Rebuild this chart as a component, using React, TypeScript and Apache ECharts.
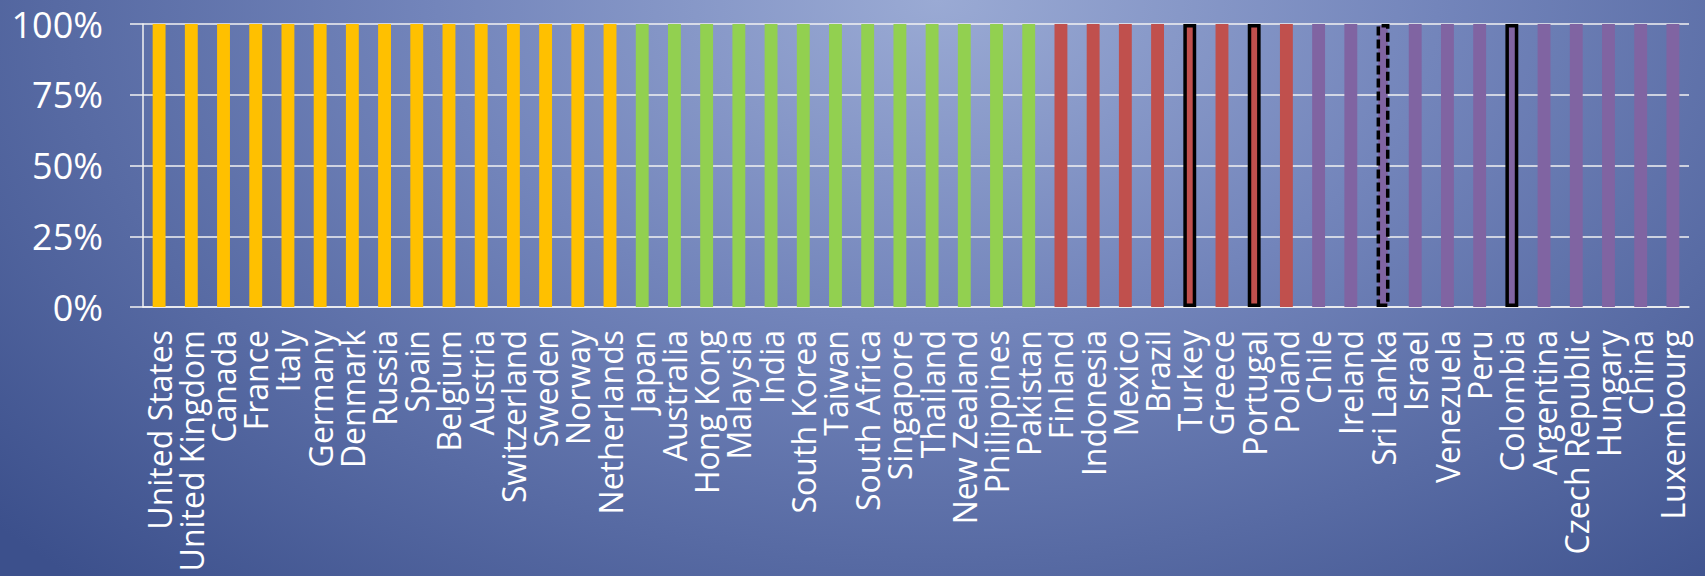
import React, { useEffect, useRef } from "react";
import * as echarts from "echarts";

const countries = [
  "United States", "United Kingdom", "Canada", "France", "Italy", "Germany", "Denmark", "Russia",
  "Spain", "Belgium", "Austria", "Switzerland", "Sweden", "Norway", "Netherlands",
  "Japan", "Australia", "Hong Kong", "Malaysia", "India", "South Korea", "Taiwan", "South Africa",
  "Singapore", "Thailand", "New Zealand", "Philippines", "Pakistan",
  "Finland", "Indonesia", "Mexico", "Brazil", "Turkey", "Greece", "Portugal", "Poland",
  "Chile", "Ireland", "Sri Lanka", "Israel", "Venezuela", "Peru", "Colombia", "Argentina",
  "Czech Republic", "Hungary", "China", "Luxembourg",
];

const values = [
  100, 100, 100, 100, 100, 100, 100, 100, 100, 100, 100, 100, 100, 100, 100,
  100, 100, 100, 100, 100, 100, 100, 100, 100, 100, 100, 100, 100,
  100, 100, 100, 100, 100, 100, 100, 100,
  100, 100, 100, 100, 100, 100, 100, 100, 100, 100, 100, 100,
];

const groups = [
  0, 0, 0, 0, 0, 0, 0, 0, 0, 0, 0, 0, 0, 0, 0,
  1, 1, 1, 1, 1, 1, 1, 1, 1, 1, 1, 1, 1,
  2, 2, 2, 2, 2, 2, 2, 2,
  3, 3, 3, 3, 3, 3, 3, 3, 3, 3, 3, 3,
];

const groupColors = ["#FFC000", "#92D050", "#C0504D", "#8064A2"];

const solidOutlined = ["Turkey", "Portugal", "Colombia"];
const dashedOutlined = ["Sri Lanka"];

const yTicks = [0, 25, 50, 75, 100];

export default function App() {
  const ref = useRef<HTMLDivElement>(null);

  useEffect(() => {
    if (!ref.current) return;
    const chart = echarts.init(ref.current, undefined, { renderer: "svg" });

    const data = countries.map((c, i) => {
      const itemStyle: any = { color: groupColors[groups[i]] };
      if (solidOutlined.includes(c)) {
        itemStyle.borderColor = "#000000";
        itemStyle.borderWidth = 3.5;
        itemStyle.borderType = "solid";
      } else if (dashedOutlined.includes(c)) {
        itemStyle.borderColor = "#000000";
        itemStyle.borderWidth = 3.5;
        itemStyle.borderType = [9, 4];
      }
      return { value: values[i], itemStyle };
    });

    chart.setOption({
      animation: false,
      backgroundColor: "transparent",
      grid: { left: 143, right: 16, top: 24, bottom: 269, containLabel: false },
      xAxis: {
        type: "category",
        data: countries,
        axisLine: { show: true, lineStyle: { color: "#f2f2f2", width: 1.5 } },
        axisTick: { show: false },
        axisLabel: {
          rotate: 90,
          interval: 0,
          color: "#ffffff",
          fontSize: 32,
          fontFamily: "Open Sans",
          margin: 23,
        },
        splitLine: { show: false },
      },
      yAxis: {
        type: "value",
        min: yTicks[0],
        max: yTicks[yTicks.length - 1],
        interval: 25,
        axisLine: { show: true, lineStyle: { color: "#f2f2f2", width: 1.5 } },
        axisTick: { show: true, length: 13, lineStyle: { color: "#f2f2f2", width: 1.5 } },
        axisLabel: {
          formatter: "{value}%",
          color: "#ffffff",
          fontSize: 36,
          fontFamily: "Open Sans",
          margin: 40,
        },
        splitLine: { show: true, lineStyle: { color: "#f2f2f2", width: 1.5 } },
      },
      series: [
        {
          type: "bar",
          data,
          barWidth: "40%",
        },
      ],
    });

    return () => chart.dispose();
  }, []);

  return (
    <div
      style={{
        position: "absolute",
        left: 0,
        top: 0,
        width: 1705,
        height: 576,
        background:
          "radial-gradient(ellipse 1250px 800px at 55% 0%, #9aaad4 0%, #7385bb 40%, #3c508c 100%)",
      }}
    >
      <div ref={ref} style={{ width: 1705, height: 576 }} />
    </div>
  );
}
